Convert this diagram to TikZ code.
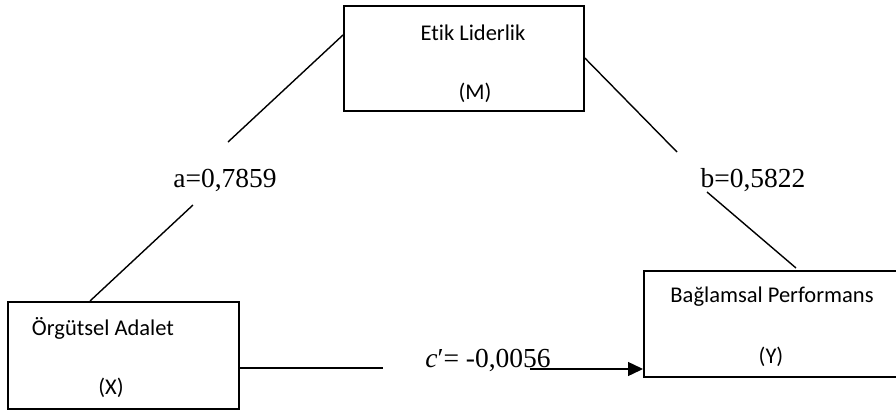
\documentclass[tikz,border=0pt]{standalone}
\usepackage{fontspec}
\setmainfont{Liberation Serif}
\newfontfamily\boxfont[Ligatures=NoCommon]{Carlito}
\usepackage{tikz}
\tikzset{
  box_font/.style = {font=\boxfont\fontsize{22.5}{26}\selectfont},
  coef_font/.style = {font=\fontsize{27.5}{30}\selectfont},
  box_line/.style = {line width=1.8pt},
  path_line/.style = {line width=1.4pt}
}
\tikzset{
  var_box/.style = {box_line, draw, inner sep=0, anchor=north west},
  var_text/.style = {box_font, inner sep=0, anchor=center},
  coef/.style = {coef_font, inner sep=0, anchor=center},
  towards_box/.style = {-{Triangle[length=15pt, width=14pt]}}
}
\usetikzlibrary{arrows.meta, calc}

\begin{document}
\begin{tikzpicture}[x=1pt, y=-1pt]
    \useasboundingbox (0,0) rectangle (896,410);

    % Variables
    \node[var_box, minimum width=240, minimum height=105] at (343,5) (m_box) {};
    \node[var_box, minimum width=231, minimum height=107] at (7,301) (x_box) {};
    \node[var_box, minimum width=262, minimum height=106] at (643,270) (y_box) {};

    \node[var_text] at (473,33) (m_name) {Etik Liderlik};
    \node[var_text] at (475,93) (m_tag) {(M)};
    \node[var_text] at (103,328) (x_name) {Örgütsel Adalet};
    \node[var_text] at (111,388) (x_tag) {(X)};
    \node[var_text] at (772,297) (y_name) {Bağlamsal Performans};
    \node[var_text] at (771,357) (y_tag) {(Y)};

    % Coefficients
    \node[coef] at (225,180) (a_lbl) {a=0,7859};
    \node[coef] at (753,180) (b_lbl) {b=0,5822};
    \node[coef] at (488,360) (c_lbl) {\textit{c}′= -0,0056};

    % Line ends
    \coordinate (a_low) at (193,205);
    \coordinate (a_high) at (228,142);
    \coordinate (b_high) at (677,152);
    \coordinate (b_low) at (707,192);
    \coordinate (c_left) at (383,368);
    \coordinate (c_right) at (530,369);

    % Paths
    \draw[path_line] ($(x_box.north west)+(83,0)$)--(a_low);
    \draw[path_line] (a_high)--($(m_box.north west)+(0,30)$);
    \draw[path_line] ($(m_box.north east)+(0,53)$)--(b_high);
    \draw[path_line] (b_low)--($(y_box.north west)+(153,-2)$);
    \draw[path_line] ($(x_box.north east)+(0,67)$)--(c_left);
    \draw[path_line, towards_box] (c_right)--($(y_box.north west)+(0,99)$);
\end{tikzpicture}
\end{document}
